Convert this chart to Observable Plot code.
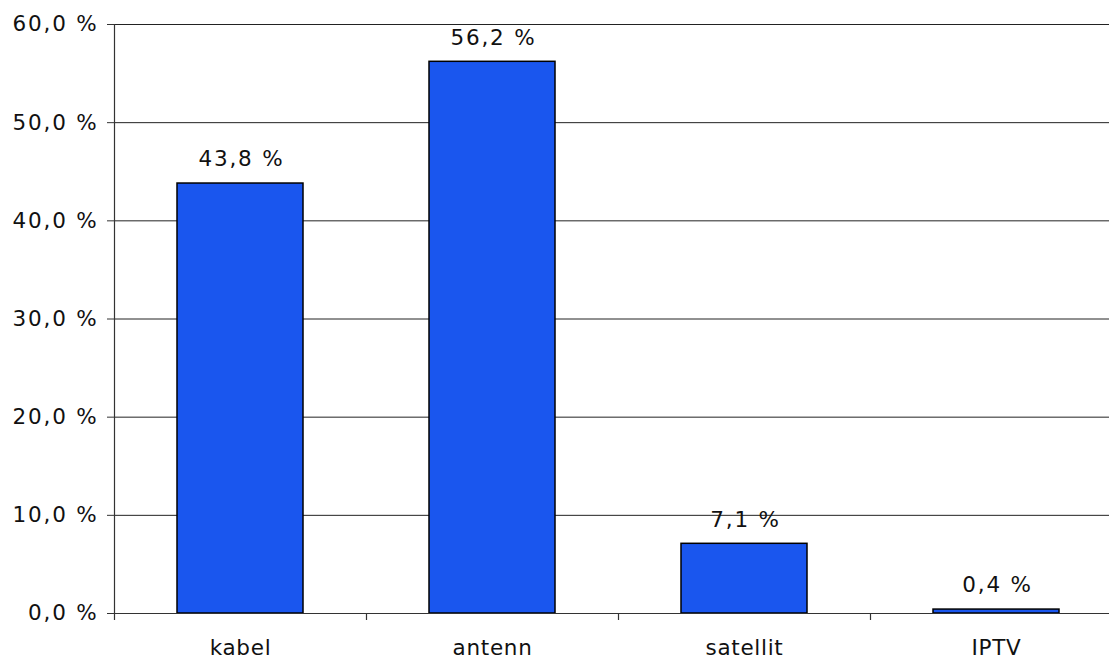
<!DOCTYPE html>
<html>
<head>
<meta charset="utf-8">
<script src="https://cdn.jsdelivr.net/npm/d3@7"></script>
<script src="https://cdn.jsdelivr.net/npm/@observablehq/plot@0.6"></script>
<style>
  html, body { margin: 0; padding: 0; background: #fff; overflow: hidden; }
  svg, svg text { font-family: "DejaVu Sans" !important; }
  g[aria-label="x-axis tick label"] { letter-spacing: 0.7px; }
</style>
</head>
<body>
<div id="chart"></div>
<script>
const categories = ["kabel", "antenn", "satellit", "IPTV"];
const values = [43.8, 56.2, 7.1, 0.4];
const yTicks = [0, 10, 20, 30, 40, 50, 60];

const data = categories.map((c, i) => ({category: c, value: values[i]}));
const fmt = v => v.toFixed(1).replace(".", ",") + " %";

const W = 1109, H = 661;
const mLeft = 114, mTop = 24, mBottom = 48;
// band step 252 px: the plot continues past the right edge (as in the reference)
const xRange = [mLeft, mLeft + 252 * categories.length];

const chart = Plot.plot({
  width: W,
  height: H,
  marginLeft: mLeft,
  marginRight: 0,
  marginTop: mTop,
  marginBottom: mBottom,
  style: {fontSize: "21.5px", letterSpacing: "1.8px", color: "#000", background: "#fff"},
  x: {domain: categories, range: xRange, paddingInner: 0.5, paddingOuter: 0.25, align: 0.5},
  y: {domain: [0, 60], ticks: yTicks},
  marks: [
    Plot.ruleY(yTicks.filter(t => t > 0), {stroke: "#222", strokeWidth: 1}),
    Plot.barY(data, {x: "category", y: "value", fill: "#1a56ee", stroke: "#000", strokeWidth: 1.5}),
    Plot.text(data, {x: "category", y: "value", text: d => fmt(d.value), dy: -24, dx: 1, lineAnchor: "middle", fill: "#111"}),
    Plot.ruleY([0], {stroke: "#333", strokeWidth: 1}),
    Plot.axisY({ticks: yTicks, tickFormat: fmt, tickSize: 7, tickPadding: 9, stroke: "#333", fill: "#111", label: null}),
    Plot.axisX({tickSize: 0, tickPadding: 26, fill: "#111", label: null})
  ]
});

// y axis line and category boundary ticks, from the chart's own scales
const xs = chart.scale("x"), ys = chart.scale("y");
const svg = d3.select(chart);
const y0 = ys.apply(0), y60 = ys.apply(60);
const step = xs.step;
svg.append("line").attr("x1", mLeft + 0.5).attr("x2", mLeft + 0.5).attr("y1", y60).attr("y2", y0 + 7)
  .attr("stroke", "#333").attr("stroke-width", 1.2);
categories.forEach(c => {
  const xb = xs.apply(c) - step * 0.25 + step;
  svg.append("line").attr("x1", xb + 0.5).attr("x2", xb + 0.5).attr("y1", y0).attr("y2", y0 + 7)
    .attr("stroke", "#333").attr("stroke-width", 1.2);
});

document.getElementById("chart").appendChild(chart);
</script>
</body>
</html>
